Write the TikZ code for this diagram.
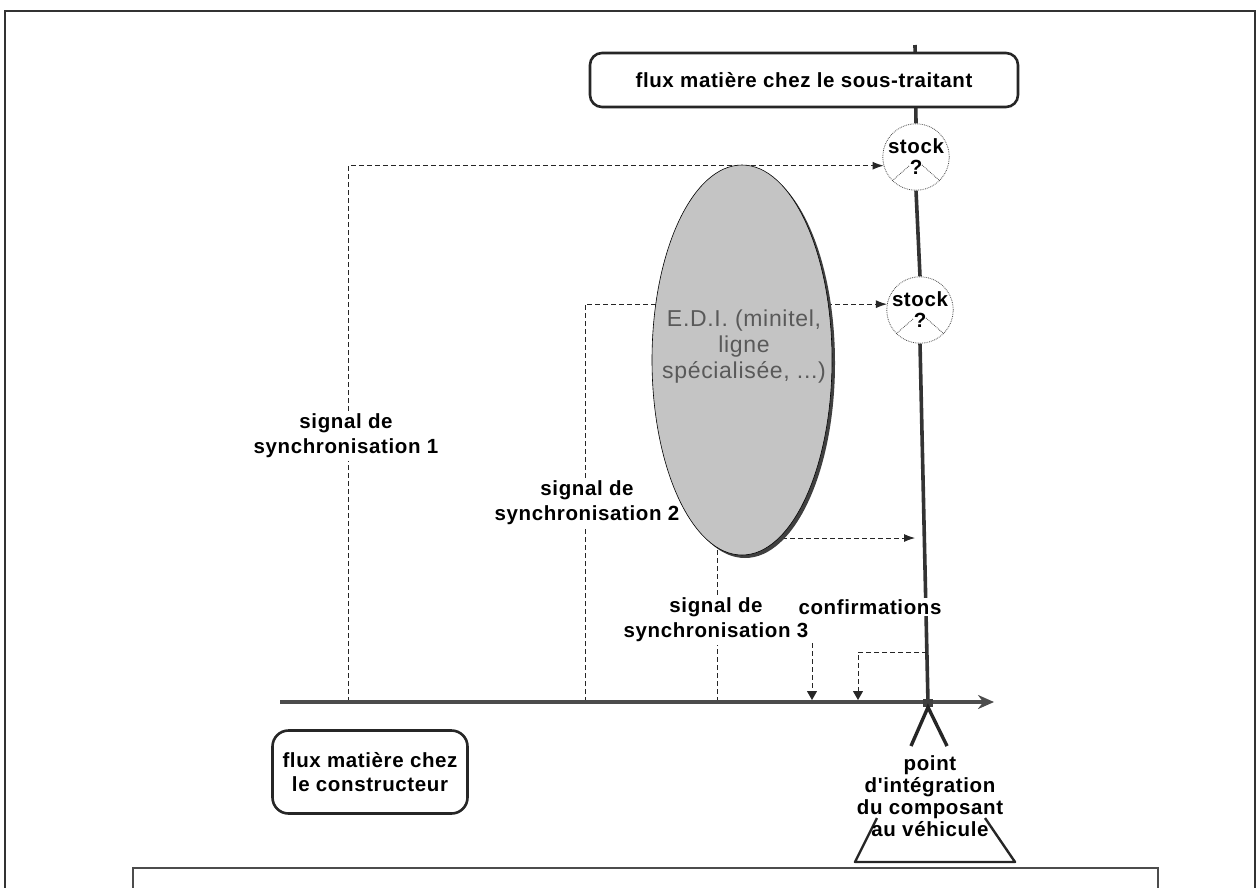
\documentclass[tikz,border=0pt]{standalone}
\usepackage{fontspec}
\setmainfont{Liberation Sans}
\newfontfamily\labfont{Liberation Sans}[LetterSpace=3.0]
\usetikzlibrary{shapes.geometric,shadows,arrows.meta,calc}
\pgfdeclarelayer{back}
\pgfsetlayers{back,main}

\begin{document}
\begin{tikzpicture}[x=1pt,y=-1pt,
  lbl/.style={font=\labfont\fontsize{20.5}{25}\selectfont\bfseries, align=center, inner sep=3pt},
  flowbox/.style={draw=black!85, line width=2.6pt, rounded corners=12pt, fill=white,
    font=\labfont\fontsize{20.5}{24}\selectfont\bfseries, align=center},
  stockc/.style={circle, draw=black!70, densely dotted, line width=0.8pt, fill=white,
    minimum size=62pt, inner sep=0pt, align=center, font=\labfont\fontsize{20.5}{21}\selectfont\bfseries},
  roof/.style={densely dotted, line width=0.8pt, draw=black!70},
  sig/.style={dash pattern=on 5pt off 3pt, line width=0.9pt, draw=black!85},
  sigtip/.style={-{Latex[length=11pt,width=8pt]}},
  conftip/.style={-{Triangle[length=9pt,width=10pt]}},
  flow/.style={line width=3.6pt, draw=black!80},
]
\useasboundingbox (0,0) rectangle (1260,887);
\clip (0,0) rectangle (1260,887);

% page frame and the panel below
\draw[line width=2pt, draw=black!80] (5,11) rectangle (1255,960);
\draw[line width=1.4pt, draw=black!70] (133,868) rectangle (1158,960);

% boxes and stocks
\node[flowbox, minimum width=428pt, minimum height=54pt] (sst) at (804,80) {flux matière chez le sous-traitant};
\node[flowbox, minimum width=195pt, minimum height=83pt, rounded corners=16pt] (cst) at (370,772) {flux matière chez\\le constructeur};
\node[stockc] (s1) at (916,157) {stock\\?};
\node[stockc] (s2) at (920,310) {stock\\?};
\draw[roof] ($(s1.center)+(-7,9)$) -- (s1.-135);
\draw[roof] ($(s1.center)+(6,8)$) -- (s1.-45);
\draw[roof] ($(s2.center)+(-7,9)$) -- (s2.-135);
\draw[roof] ($(s2.center)+(6,8)$) -- (s2.-45);

% EDI ellipse
\node[ellipse, draw=black, line width=0.6pt, fill=black!23, minimum width=180pt, minimum height=390pt,
  drop shadow={shadow xshift=3pt, shadow yshift=-3pt, fill=black!75, opacity=1}] (edi) at (742,360) {};
\node[font=\labfont\fontsize{23}{26}\selectfont, text=black!65, align=center] (editext) at (744,347)
  {E.D.I. (minitel,\\ligne\\spécialisée, ...)};

% labels
\node[lbl] (l1) at (346,436) {signal de\\synchronisation 1};
\node[lbl] (l2) at (587,503) {signal de\\synchronisation 2};
\node[lbl] (l3) at (716,620) {signal de\\synchronisation 3};
\node[lbl, fill=white, inner sep=1pt] (conf) at (870,607) {confirmations};

% reference points
\coordinate (top) at (915,45);
\coordinate (axl) at (280,702);
\coordinate (axr) at (994,702);
\coordinate (a1) at (348,702);
\coordinate (a2) at (585,702);
\coordinate (a3) at (717,702);
\coordinate (e4) at (915,538);
\coordinate (cf1) at (812,643);
\coordinate (cf2) at (927,652);
\coordinate (cf2b) at (858,702);
\coordinate (v1) at (911,746);
\coordinate (v2) at (947,746);
\coordinate (t1) at (877,818);
\coordinate (t2) at (855,862);
\coordinate (t3) at (1015,862);
\coordinate (t4) at (985,818);

% constructor flow line
\draw[line width=3.8pt, draw=black!70, -{Stealth[length=16pt,width=14pt]}] (axl) -- (axr);
\node[fill=black!75, minimum width=10pt, minimum height=8pt, inner sep=0pt] (junc) at (928,703) {};
\draw[line width=3.4pt, draw=black!85] (v1) -- (junc.south) -- (v2);
\draw[line width=2.4pt, draw=black!85, line join=round] (t1) -- (t2) -- (t3) -- (t4);
\node[lbl, font=\labfont\fontsize{20.5}{22}\selectfont\bfseries, inner sep=1pt] (pint) at (930,796)
  {point\\d'intégration\\du composant\\au véhicule};

% confirmations
\draw[sig, conftip, shorten >=2pt] (cf1) -- (cf1 |- axl);
\draw[sig, conftip, shorten >=2pt] (cf2) -| (cf2b);

\begin{pgfonlayer}{back}
  % supplier flow line
  \draw[flow] (top) -- (s1.north);
  \draw[flow] (s1.south) -- (s2.north);
  \draw[flow] (s2.south) -- (junc.center);
  % synchronisation signals, interrupted by their labels
  \draw[sig] (a1) -- (l1.south -| a1);
  \draw[sig, sigtip] (l1.north -| a1) |- (s1.195);
  \draw[sig] (a2) -- (l2.south -| a2);
  \draw[sig, sigtip] (l2.north -| a2) |- (s2.170);
  \draw[sig] (a3) -- (l3.south -| a3);
  \draw[sig] (l3.north -| a3) -- (a3 |- edi.center);
  \draw[sig, sigtip] (e4 -| edi.center) -- (e4);
\end{pgfonlayer}
\end{tikzpicture}
\end{document}
